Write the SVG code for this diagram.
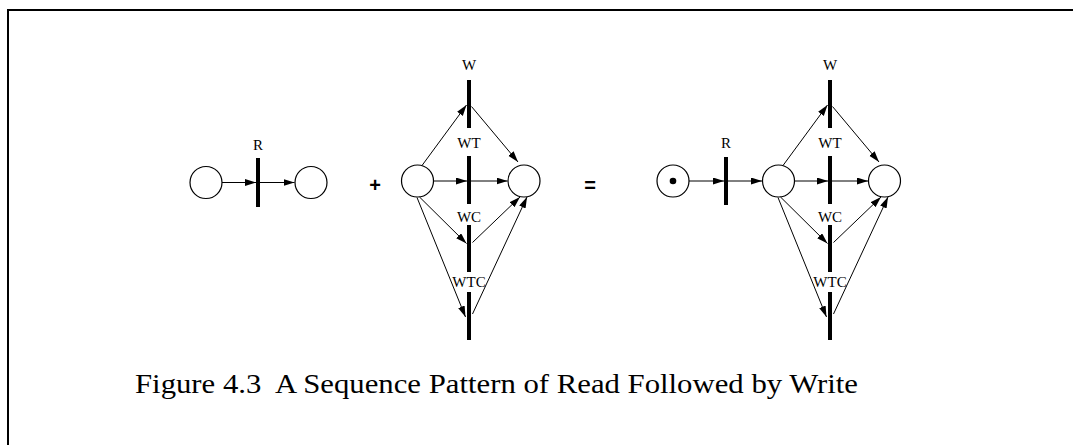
<svg xmlns="http://www.w3.org/2000/svg" width="1073" height="445" viewBox="0 0 1073 445">
<style>
.place{fill:#fff;stroke:#000;stroke-width:1.2}
.bar{stroke:#000;stroke-width:4;fill:none}
.arc{stroke:#000;stroke-width:1;fill:none;marker-end:url(#ah)}
.lbl{font-family:"Liberation Serif","Times New Roman",serif;font-size:15px;text-anchor:middle;fill:#000}
.op{font-family:"Liberation Sans",Arial,sans-serif;font-size:20px;font-weight:bold;text-anchor:middle;fill:#000}
.cap{font-family:"Liberation Serif","Times New Roman",serif;font-size:28px;fill:#000;white-space:pre}
</style>
<defs>
<marker id="ah" markerUnits="userSpaceOnUse" markerWidth="12" markerHeight="8" refX="11" refY="3.5" orient="auto">
<path d="M0,0 L11,3.5 L0,7 z" fill="#000"/>
</marker>
</defs>
<rect width="1073" height="445" fill="#fff"/>
<path d="M8,445 V10 H1073" fill="none" stroke="#000" stroke-width="2"/>

<!-- left net -->
<g id="p1"><circle class="place" cx="206" cy="182.5" r="16"/></g>
<g id="tR1"><line class="bar" x1="258" y1="158" x2="258" y2="207"/><text class="lbl" x="258" y="150">R</text></g>
<g id="p2"><circle class="place" cx="311" cy="182.5" r="16"/></g>

<g id="plus"><text class="op" x="375" y="192">+</text></g>

<!-- middle net -->
<g id="p3"><circle class="place" cx="417.5" cy="181" r="16"/></g>
<g id="tW1"><line class="bar" x1="469" y1="80" x2="469" y2="128"/><text class="lbl" x="469" y="70">W</text></g>
<g id="tWT1"><line class="bar" x1="469" y1="156" x2="469" y2="204"/><text class="lbl" x="469" y="148">WT</text></g>
<g id="tWC1"><line class="bar" x1="469" y1="225" x2="469" y2="272"/><text class="lbl" x="469" y="222">WC</text></g>
<g id="tWTC1"><line class="bar" x1="469" y1="292" x2="469" y2="340"/><text class="lbl" x="469" y="287">WTC</text></g>
<g id="p4"><circle class="place" cx="524" cy="181" r="16"/></g>

<g id="equals"><text class="op" x="590" y="192">=</text></g>

<!-- right net -->
<g id="p5"><circle class="place" cx="673" cy="181" r="16"/><circle cx="673" cy="181" r="3.3" fill="#000"/></g>
<g id="tR2"><line class="bar" x1="726" y1="157" x2="726" y2="205"/><text class="lbl" x="726" y="148">R</text></g>
<g id="p6"><circle class="place" cx="778.5" cy="181" r="16"/></g>
<g id="tW2"><line class="bar" x1="830" y1="80" x2="830" y2="128"/><text class="lbl" x="830" y="70">W</text></g>
<g id="tWT2"><line class="bar" x1="830" y1="156" x2="830" y2="204"/><text class="lbl" x="830" y="148">WT</text></g>
<g id="tWC2"><line class="bar" x1="830" y1="225" x2="830" y2="272"/><text class="lbl" x="830" y="222">WC</text></g>
<g id="tWTC2"><line class="bar" x1="830" y1="292" x2="830" y2="340"/><text class="lbl" x="830" y="287">WTC</text></g>
<g id="p7"><circle class="place" cx="884.5" cy="181" r="16"/></g>

<g id="connectors">
<!-- left net -->
<line class="arc" x1="222" y1="182.5" x2="256" y2="182.5"/>
<line class="arc" x1="260" y1="182.5" x2="294.5" y2="182.5"/>
<!-- middle net -->
<line class="arc" x1="422" y1="165.5" x2="466.5" y2="105"/>
<line class="arc" x1="471.5" y1="106.5" x2="518" y2="162"/>
<line class="arc" x1="433.5" y1="181" x2="467" y2="181"/>
<line class="arc" x1="471" y1="181" x2="507.5" y2="181"/>
<line class="arc" x1="419.5" y1="197" x2="466.5" y2="243.5"/>
<line class="arc" x1="472.5" y1="242.5" x2="520" y2="197"/>
<line class="arc" x1="417" y1="197.5" x2="465.5" y2="317"/>
<line class="arc" x1="472.5" y1="314" x2="527" y2="197"/>
<!-- right net -->
<line class="arc" x1="689" y1="181" x2="724" y2="181"/>
<line class="arc" x1="728" y1="181" x2="762" y2="181"/>
<line class="arc" x1="783" y1="165.5" x2="827.5" y2="105"/>
<line class="arc" x1="832.5" y1="106.5" x2="879" y2="162"/>
<line class="arc" x1="794.5" y1="181" x2="828" y2="181"/>
<line class="arc" x1="832" y1="181" x2="868" y2="181"/>
<line class="arc" x1="780.5" y1="197" x2="827.5" y2="243.5"/>
<line class="arc" x1="833.5" y1="242.5" x2="881" y2="197"/>
<line class="arc" x1="778" y1="197.5" x2="826.5" y2="317"/>
<line class="arc" x1="833.5" y1="314" x2="888" y2="197"/>
</g>

<text class="cap" x="135" y="393" textLength="723" lengthAdjust="spacingAndGlyphs" xml:space="preserve">Figure 4.3  A Sequence Pattern of Read Followed by Write</text>
</svg>
